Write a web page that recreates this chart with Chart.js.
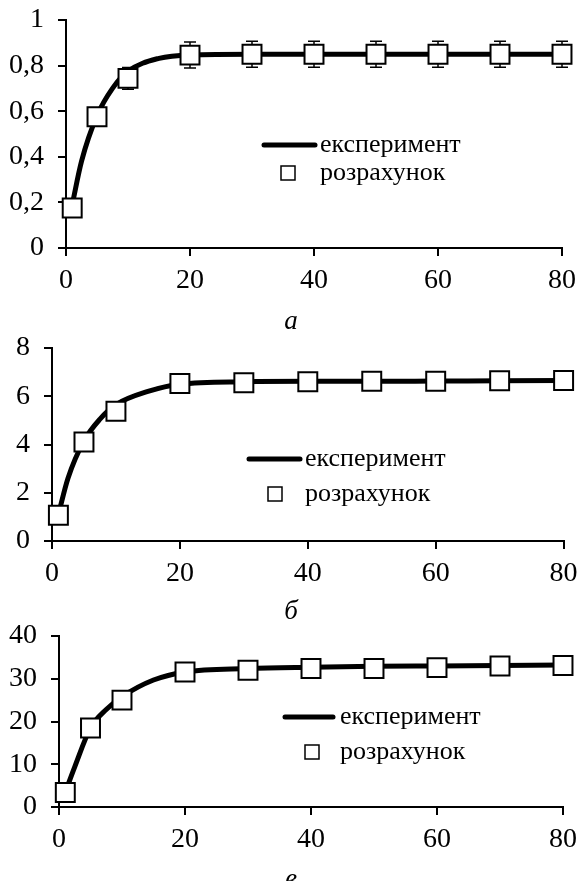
<!DOCTYPE html>
<html>
<head>
<meta charset="utf-8">
<script src="https://cdn.jsdelivr.net/npm/chart.js@4.4.1/dist/chart.umd.min.js"></script>
<style>
  body { margin: 0; background: #fff; width: 579px; height: 881px; position: relative; overflow: hidden; }
  .box { position: absolute; left: 0; width: 579px; }
  .cap { position: absolute; font-family: "Liberation Serif", serif; font-style: italic; font-size: 27px; color: #000; transform: translate(-50%, -50%); }
</style>
</head>
<body>
<div class="box" id="b1" style="top:0px;height:295px"><canvas id="c1"></canvas></div>
<div class="box" id="b2" style="top:328px;height:260px"><canvas id="c2"></canvas></div>
<div class="box" id="b3" style="top:616px;height:238px"><canvas id="c3"></canvas></div>
<div class="cap" style="left:291px;top:320px">а</div>
<div class="cap" style="left:291px;top:610px">б</div>
<div class="cap" style="left:291px;top:878px">в</div>
<script>
// точки розрахунку
var xCalc = [1, 5, 10, 20, 30, 40, 50, 60, 70, 80];
var calcA = [0.175, 0.576, 0.744, 0.846, 0.85, 0.85, 0.85, 0.85, 0.85, 0.85];
var errA  = [0, 0, 0.048, 0.057, 0.057, 0.057, 0.057, 0.057, 0.057, 0.057];
var calcB = [1.07, 4.1, 5.38, 6.53, 6.56, 6.6, 6.62, 6.62, 6.64, 6.65];
var calcC = [3.4, 18.5, 25.0, 31.6, 32.0, 32.4, 32.4, 32.6, 33.0, 33.1];

// експериментальна крива
var xExp = [1, 2.5, 5, 7.5, 10, 15, 20, 30, 40, 50, 60, 70, 80];
var expA = [0.19, 0.38, 0.58, 0.70, 0.775, 0.832, 0.847, 0.85, 0.85, 0.85, 0.85, 0.85, 0.85];
var expB = [1.1, 2.6, 4.15, 5.05, 5.65, 6.2, 6.5, 6.6, 6.62, 6.62, 6.63, 6.64, 6.65];
var expC = [3.5, 9.4, 18.5, 22.8, 25.8, 29.7, 31.6, 32.4, 32.7, 32.9, 33.0, 33.1, 33.2];

var xTicks = [0, 20, 40, 60, 80];
var legendLabels = ["експеримент", "розрахунок"];

var FONT = "Liberation Serif";
var TICK_SIZE = 28;

function pts(xs, ys) {
  return xs.map(function (x, i) { return { x: x, y: ys[i] }; });
}

// вуса похибок
var errorBars = {
  id: "errorBars",
  beforeDatasetsDraw: function (chart, args, opts) {
    if (!opts.err) return;
    var ctx = chart.ctx, xs = chart.scales.x, ys = chart.scales.y;
    ctx.save();
    ctx.strokeStyle = "#000";
    ctx.lineWidth = 1.5;
    opts.err.forEach(function (e, i) {
      if (!e) return;
      var px = xs.getPixelForValue(xCalc[i]);
      var top = ys.getPixelForValue(opts.vals[i] + e);
      var bot = ys.getPixelForValue(opts.vals[i] - e);
      ctx.beginPath();
      ctx.moveTo(px, top); ctx.lineTo(px, bot);
      ctx.moveTo(px - 6, top); ctx.lineTo(px + 6, top);
      ctx.moveTo(px - 6, bot); ctx.lineTo(px + 6, bot);
      ctx.stroke();
    });
    ctx.restore();
  }
};

// легенда всередині поля
var innerLegend = {
  id: "innerLegend",
  afterDraw: function (chart, args, o) {
    var ctx = chart.ctx;
    ctx.save();
    ctx.strokeStyle = "#000";
    ctx.lineCap = "round";
    ctx.lineWidth = 5;
    ctx.beginPath();
    ctx.moveTo(o.x1, o.y1); ctx.lineTo(o.x2, o.y1);
    ctx.stroke();
    ctx.lineWidth = 1.5;
    ctx.fillStyle = "#fff";
    ctx.fillRect(o.sx - 7, o.y2 - 7, 14, 14);
    ctx.strokeRect(o.sx - 7, o.y2 - 7, 14, 14);
    ctx.fillStyle = "#000";
    ctx.font = "26px " + FONT;
    ctx.textBaseline = "middle";
    ctx.fillText(legendLabels[0], o.tx, o.y1);
    ctx.fillText(legendLabels[1], o.tx, o.y2);
    ctx.restore();
  }
};

function makeChart(id, cfg) {
  var axisStyle = {
    grid: { display: true, drawOnChartArea: false, drawTicks: true, tickLength: 8, color: "#000", lineWidth: 2 },
    border: { display: true, color: "#000", width: 2 }
  };
  return new Chart(document.getElementById(id), {
    type: "line",
    data: {
      datasets: [
        {
          label: legendLabels[0],
          data: pts(xExp, cfg.exp),
          borderColor: "#000",
          borderWidth: 5,
          pointRadius: 0,
          cubicInterpolationMode: "monotone",
          clip: false,
          order: 2
        },
        {
          label: legendLabels[1],
          data: pts(xCalc, cfg.calc),
          showLine: false,
          pointStyle: "rect",
          pointRadius: 13.4,
          pointBorderWidth: 2,
          pointBorderColor: "#000",
          pointBackgroundColor: "#fff",
          clip: false,
          order: 1
        }
      ]
    },
    options: {
      responsive: true,
      maintainAspectRatio: false,
      animation: false,
      events: [],
      layout: { padding: { top: 20, right: cfg.right, left: 0, bottom: 0 } },
      plugins: {
        legend: { display: false },
        tooltip: { enabled: false },
        errorBars: { err: cfg.err, vals: cfg.calc },
        innerLegend: cfg.legend
      },
      scales: {
        x: Object.assign({
          type: "linear",
          min: 0, max: 80,
          afterBuildTicks: function (s) { s.ticks = xTicks.map(function (v) { return { value: v }; }); },
          afterFit: function (s) { s.height = 47; s.paddingLeft = 0; s.paddingRight = 0; },
          ticks: { color: "#000", padding: 8, maxRotation: 0, font: { family: FONT, size: TICK_SIZE } }
        }, axisStyle),
        y: Object.assign({
          min: 0, max: cfg.ymax,
          afterFit: function (s) { s.width = cfg.left; s.paddingTop = 0; s.paddingBottom = 0; },
          ticks: {
            stepSize: cfg.step, color: "#000", padding: 14,
            font: { family: FONT, size: TICK_SIZE },
            callback: function (v) { return String(Math.round(v * 10) / 10).replace(".", ","); }
          }
        }, axisStyle)
      }
    },
    plugins: [errorBars, innerLegend]
  });
}

makeChart("c1", {
  exp: expA, calc: calcA, err: errA, ymax: 1, step: 0.2, left: 66, right: 17,
  legend: { x1: 264, x2: 315, y1: 145, sx: 288, y2: 173, tx: 320 }
});
makeChart("c2", {
  exp: expB, calc: calcB, err: null, ymax: 8, step: 2, left: 52, right: 15,
  legend: { x1: 249, x2: 300, y1: 131, sx: 275, y2: 166, tx: 305 }
});
makeChart("c3", {
  exp: expC, calc: calcC, err: null, ymax: 40, step: 10, left: 59, right: 16,
  legend: { x1: 285, x2: 333, y1: 101, sx: 312, y2: 136, tx: 340 }
});
</script>
</body>
</html>
